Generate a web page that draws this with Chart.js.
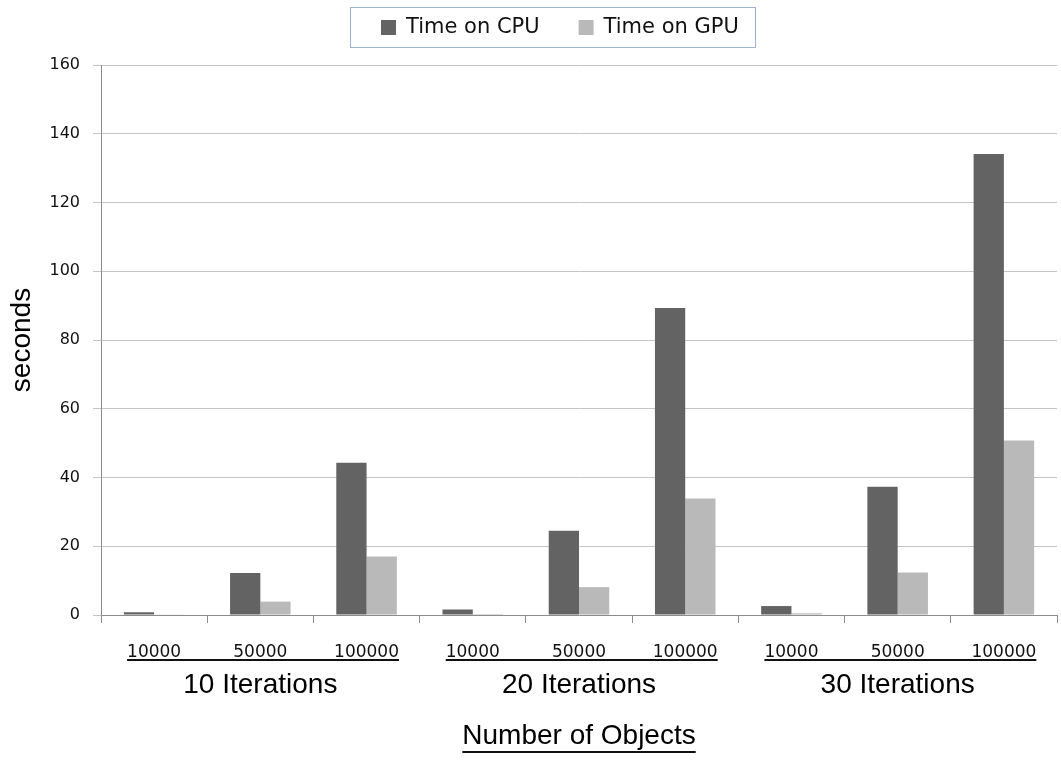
<!DOCTYPE html>
<html>
<head>
<meta charset="utf-8">
<script src="https://cdn.jsdelivr.net/npm/chart.js@4.4.1/dist/chart.umd.min.js"></script>
<style>
  html, body { margin: 0; padding: 0; background: #fff; }
</style>
</head>
<body>
<canvas id="chart" width="1061" height="761"></canvas>
<script>
// Values
const objectCounts = ['10000', '50000', '100000'];
const iterationGroups = ['10 Iterations', '20 Iterations', '30 Iterations'];
const categories = iterationGroups.flatMap(() => objectCounts);
const cpuSeconds = [0.8, 12.2, 44.3, 1.6, 24.5, 89.3, 2.6, 37.3, 134.1];
const gpuSeconds = [0.1, 3.9, 17.0, 0.3, 8.1, 33.9, 0.5, 12.4, 50.8];
const yMax = 160;
const yStep = 20;

const tickFont = { family: "'DejaVu Sans'", size: 17 };
const titleFont = { family: "'Liberation Sans', Arial", size: 28 };

// group captions, underlines and the boxed legend
const decorations = {
  id: 'decorations',
  afterDraw(chart) {
    const ctx = chart.ctx;
    const x = chart.scales.x;
    const area = chart.chartArea;
    ctx.save();

    // underline under each group of tick labels
    ctx.font = tickFont.size + 'px ' + tickFont.family;
    iterationGroups.forEach(function (name, g) {
      const first = g * objectCounts.length;
      const last = first + objectCounts.length - 1;
      const left = x.getPixelForValue(first) - ctx.measureText(categories[first]).width / 2;
      const right = x.getPixelForValue(last) + ctx.measureText(categories[last]).width / 2;
      ctx.strokeStyle = '#111';
      ctx.lineWidth = 2;
      ctx.beginPath();
      ctx.moveTo(left, 660);
      ctx.lineTo(right, 660);
      ctx.stroke();
    });

    // group captions
    ctx.font = titleFont.size + 'px ' + titleFont.family;
    ctx.fillStyle = '#000';
    ctx.textAlign = 'center';
    ctx.textBaseline = 'middle';
    iterationGroups.forEach(function (name, g) {
      const mid = g * objectCounts.length + 1;
      ctx.fillText(name, x.getPixelForValue(mid), 685);
    });

    // underline under the axis title
    const t = x.options.title.text;
    const tw = ctx.measureText(t).width;
    const cx = (area.left + area.right) / 2;
    ctx.strokeStyle = '#111';
    ctx.lineWidth = 2;
    ctx.beginPath();
    ctx.moveTo(cx - tw / 2, 752);
    ctx.lineTo(cx + tw / 2, 752);
    ctx.stroke();

    // legend in a bordered box
    ctx.strokeStyle = '#9fb4d2';
    ctx.lineWidth = 1;
    ctx.strokeRect(350.5, 7.5, 405, 40);
    ctx.font = '21px ' + tickFont.family;
    ctx.textAlign = 'left';
    let cursor = 381;
    chart.data.datasets.forEach(function (ds) {
      ctx.fillStyle = ds.backgroundColor;
      ctx.fillRect(cursor, 20, 15, 15);
      ctx.fillStyle = '#111';
      ctx.fillText(ds.label, cursor + 25, 28);
      cursor += 25 + ctx.measureText(ds.label).width + 39;
    });
    ctx.restore();
  },
};

new Chart(document.getElementById('chart'), {
  type: 'bar',
  data: {
    labels: categories,
    datasets: [
      {
        label: 'Time on CPU',
        data: cpuSeconds,
        backgroundColor: '#636363',
        categoryPercentage: 0.57,
        barPercentage: 1.0,
      },
      {
        label: 'Time on GPU',
        data: gpuSeconds,
        backgroundColor: '#b9b9b9',
        categoryPercentage: 0.57,
        barPercentage: 1.0,
      },
    ],
  },
  options: {
    responsive: false,
    animation: false,
    layout: {
      padding: { top: 65, right: 4, bottom: 0, left: 0 },
    },
    plugins: {
      legend: { display: false },
      tooltip: { enabled: false },
    },
    scales: {
      y: {
        min: 0,
        max: yMax,
        afterFit(scale) {
          scale.width = 101;
        },
        ticks: {
          stepSize: yStep,
          padding: 13,
          color: '#111',
          font: { family: tickFont.family, size: 16 },
        },
        grid: {
          color: '#c4c4c4',
          tickLength: 8,
        },
        border: { color: '#8c8c8c' },
        title: {
          display: true,
          text: 'seconds',
          color: '#000',
          font: titleFont,
          padding: { top: 5, bottom: 0 },
        },
      },
      x: {
        afterFit(scale) {
          scale.height = 146;
        },
        ticks: {
          padding: 19,
          color: '#111',
          font: tickFont,
          maxRotation: 0,
          autoSkip: false,
        },
        grid: {
          offset: true,
          drawOnChartArea: false,
          color: '#8c8c8c',
          tickLength: 8,
        },
        border: { color: '#8c8c8c' },
        title: {
          display: true,
          text: 'Number of Objects',
          color: '#000',
          font: titleFont,
          padding: { top: 0, bottom: 8 },
        },
      },
    },
  },
  plugins: [decorations],
});
</script>
</body>
</html>
